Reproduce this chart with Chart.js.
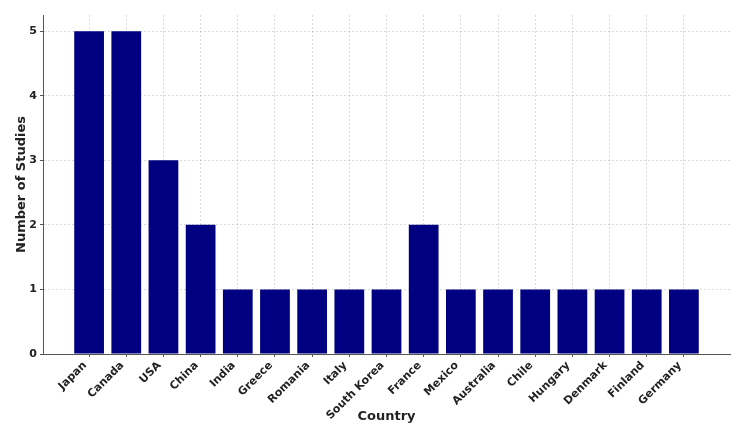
<!DOCTYPE html>
<html>
<head>
<meta charset="utf-8">
<script src="https://cdn.jsdelivr.net/npm/chart.js@4/dist/chart.umd.min.js"></script>
<style>
  html, body { margin: 0; padding: 0; background: #fff; }
</style>
</head>
<body>
<canvas id="myChart" width="750" height="434"></canvas>
<script>
"use strict";

// Data
const countries = ["Japan", "Canada", "USA", "China", "India", "Greece", "Romania", "Italy",
  "South Korea", "France", "Mexico", "Australia", "Chile", "Hungary", "Denmark", "Finland", "Germany"];
const studies = [5, 5, 3, 2, 1, 1, 1, 1, 1, 2, 1, 1, 1, 1, 1, 1, 1];
const yMax = 5.25;

const tickFont = { family: "DejaVu Sans", size: 11, weight: "bold" };
const titleFont = { family: "DejaVu Sans", size: 13, weight: "bold" };
const gridColor = "rgba(150,150,150,0.35)";

const ctx = document.getElementById("myChart");

new Chart(ctx, {
  type: "bar",
  data: {
    datasets: [
      {
        label: "Number of Studies",
        data: studies.map(function (v, i) { return { x: i, y: v }; }),
        backgroundColor: "#000080",
        barPercentage: 0.8,
        categoryPercentage: 1,
      },
    ],
  },
  options: {
    responsive: false,
    animation: false,
    layout: { padding: { left: 10, right: 20, top: 15, bottom: 6 } },
    plugins: { legend: { display: false }, tooltip: { enabled: false } },
    scales: {
      x: {
        type: "linear",
        z: 1,
        offset: false,
        min: -1.24,
        max: countries.length - 1 + 1.24,
        afterBuildTicks: function (axis) {
          axis.ticks = axis.ticks.filter(function (t) {
            return Number.isInteger(t.value) && t.value >= 0 && t.value < countries.length;
          });
        },
        afterFit: function (scale) { scale.height = 74; },
        ticks: {
          stepSize: 1,
          includeBounds: false,
          autoSkip: false,
          minRotation: 45,
          maxRotation: 45,
          padding: 2,
          labelOffset: -4,
          color: "#222",
          font: tickFont,
          callback: function (v) { return countries[v] || ""; },
        },
        grid: {
          offset: false,
          color: gridColor,
          tickLength: 3,
          tickColor: "#555",
          tickBorderDash: [],
        },
        border: { color: "#555", width: 1, dash: [2, 2] },
        title: { display: true, text: "Country", color: "#222", font: titleFont, padding: { top: 0 } },
      },
      y: {
        z: 1,
        min: 0,
        max: yMax,
        afterFit: function (scale) { scale.width = 33; },
        ticks: {
          stepSize: 1,
          includeBounds: false,
          padding: 3,
          color: "#222",
          font: tickFont,
        },
        grid: {
          color: gridColor,
          tickLength: 3,
          tickColor: "#555",
          tickBorderDash: [],
        },
        border: { color: "#555", width: 1, dash: [2, 2] },
        title: { display: true, text: "Number of Studies", color: "#222", font: titleFont, padding: 4 },
      },
    },
  },
});
</script>
</body>
</html>
